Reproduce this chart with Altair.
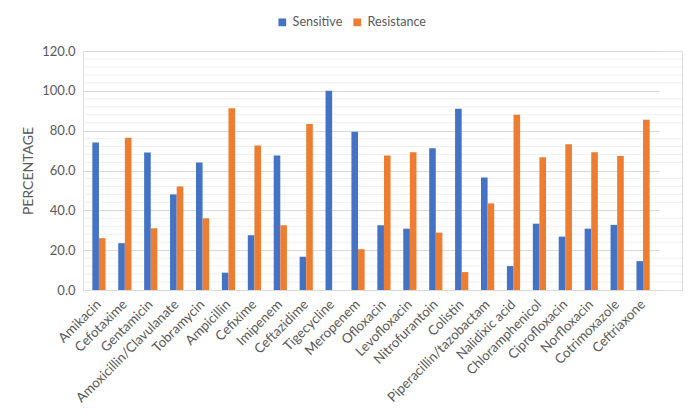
import altair as alt
import pandas as pd

antibiotics = [
    "Amikacin", "Cefotaxime", "Gentamicin", "Amoxicillin/Clavulanate", "Tobramycin",
    "Ampicillin", "Cefixime", "Imipenem", "Ceftazidime", "Tigecycline", "Meropenem",
    "Ofloxacin", "Levofloxacin", "Nitrofurantoin", "Colistin", "Piperacillin/tazobactam",
    "Nalidixic acid", "Chloramphenicol", "Ciprofloxacin", "Norfloxacin", "Cotrimoxazole",
    "Ceftriaxone",
]
sensitive = [74.0, 23.5, 69.0, 48.0, 64.0, 8.7, 27.5, 67.5, 16.7, 100.0, 79.5,
             32.5, 30.8, 71.2, 91.0, 56.5, 12.0, 33.3, 26.8, 30.8, 32.7, 14.5]
resistance = [26.0, 76.5, 31.0, 52.0, 36.0, 91.3, 72.5, 32.5, 83.3, 0.0, 20.5,
              67.5, 69.2, 28.8, 9.0, 43.5, 88.0, 66.7, 73.2, 69.2, 67.3, 85.5]
series = ["Sensitive", "Resistance"]
colors = ["#4472C4", "#ED7D31"]
major_ticks = [0, 20, 40, 60, 80, 100, 120]
minor_ticks = [4, 8, 12, 16, 24, 28, 32, 36, 44, 48, 52, 56, 64, 68, 72, 76,
               84, 88, 92, 96, 104, 108, 112, 116]

rows = []
for name, s, r in zip(antibiotics, sensitive, resistance):
    rows.append({"Antibiotic": name, "Type": "Sensitive", "Value": s})
    rows.append({"Antibiotic": name, "Type": "Resistance", "Value": r})
df = pd.DataFrame(rows)
minor_df = pd.DataFrame({"Value": minor_ticks})

FONT = "Lato"
TXT = "#595959"
FS = 13

yscale = alt.Scale(domain=[0, 120], nice=False)
yaxis = alt.Axis(
    title="PERCENTAGE", values=major_ticks, format=".1f", domain=False,
    ticks=False, labelPadding=8, gridColor="#d9d9d9", labelColor=TXT,
    labelFont=FONT, labelFontSize=FS, titleColor=TXT, titleFont=FONT,
    titleFontSize=14, titleFontWeight="normal", titlePadding=6,
)

minor = alt.Chart(minor_df).mark_rule(color="#f0f0f0", strokeWidth=1).encode(
    y=alt.Y("Value:Q", scale=yscale, axis=yaxis)
)

bars = alt.Chart(df).mark_bar().encode(
    x=alt.X(
        "Antibiotic:N",
        sort=antibiotics,
        scale=alt.Scale(range=[0, 576], paddingInner=0.49, paddingOuter=0.36),
        axis=alt.Axis(
            title=None, labelAngle=315, labelAlign="right", labelBaseline="middle",
            labelPadding=12, ticks=False, domainColor="#d9d9d9", labelColor=TXT,
            labelFont=FONT, labelFontSize=13.4, grid=False, labelOverlap=False,
        ),
    ),
    xOffset=alt.XOffset("Type:N", sort=series, scale=alt.Scale(domain=series)),
    y=alt.Y("Value:Q", scale=yscale, axis=yaxis),
    color=alt.Color(
        "Type:N",
        sort=series,
        scale=alt.Scale(domain=series, range=colors),
        legend=alt.Legend(
            title=None, orient="none", legendX=193, legendY=-35, direction="horizontal",
            symbolType="square", symbolSize=60, symbolStrokeWidth=0, labelFont=FONT,
            labelFontSize=12.6, labelColor=TXT, columnPadding=8, labelOffset=4,
        ),
    ),
)

chart = alt.layer(minor, bars).properties(
    width=599,
    height=239,
    autosize=alt.AutoSizeParams(type="none"),
    padding={"left": 75, "top": 43, "right": 10, "bottom": 120},
).configure_view(stroke=None).configure(background="white")

chart.save("out.html", embed_options={"renderer": "svg", "actions": False})
